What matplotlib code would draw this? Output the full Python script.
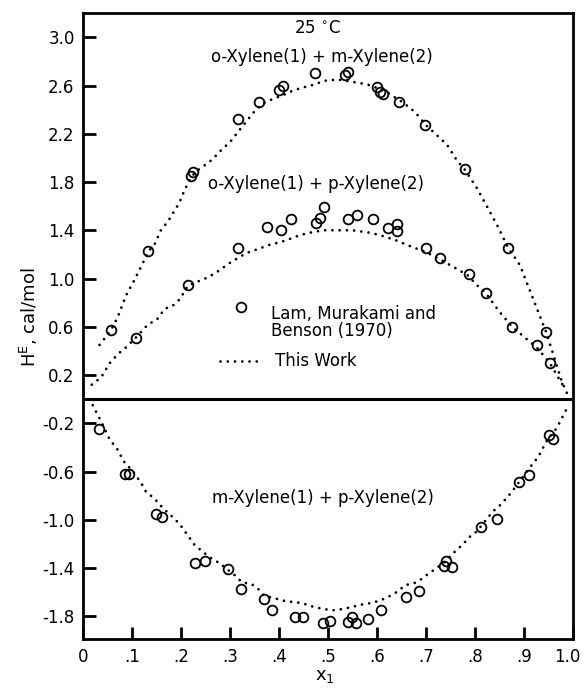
import matplotlib
matplotlib.use('Agg')
import matplotlib.pyplot as plt
from matplotlib.transforms import ScaledTranslation

# o-Xylene(1) + m-Xylene(2): Lam, Murakami and Benson (1970)
om_x = [0.057, 0.133, 0.220, 0.224, 0.316, 0.360, 0.400, 0.408, 0.473, 0.535, 0.541,
        0.600, 0.606, 0.612, 0.645, 0.698, 0.780, 0.867, 0.945]
om_y = [0.57, 1.23, 1.85, 1.88, 2.32, 2.46, 2.56, 2.60, 2.70, 2.69, 2.71,
        2.59, 2.55, 2.53, 2.46, 2.27, 1.91, 1.25, 0.56]

# o-Xylene(1) + p-Xylene(2)
op_x = [0.108, 0.214, 0.316, 0.375, 0.404, 0.424, 0.476, 0.484, 0.492, 0.541, 0.559,
        0.592, 0.622, 0.640, 0.640, 0.700, 0.728, 0.788, 0.822, 0.876, 0.926, 0.953]
op_y = [0.51, 0.95, 1.25, 1.43, 1.40, 1.49, 1.46, 1.50, 1.59, 1.49, 1.53,
        1.49, 1.42, 1.45, 1.39, 1.25, 1.17, 1.04, 0.88, 0.60, 0.45, 0.30]

# m-Xylene(1) + p-Xylene(2)
mp_x = [0.032, 0.085, 0.095, 0.150, 0.161, 0.229, 0.250, 0.297, 0.323, 0.369, 0.386,
        0.433, 0.450, 0.490, 0.504, 0.542, 0.550, 0.557, 0.582, 0.608, 0.659, 0.686,
        0.737, 0.742, 0.754, 0.813, 0.846, 0.891, 0.911, 0.951, 0.960]
mp_y = [-0.25, -0.62, -0.62, -0.95, -0.98, -1.36, -1.34, -1.41, -1.57, -1.66, -1.75,
        -1.81, -1.81, -1.86, -1.84, -1.85, -1.81, -1.86, -1.82, -1.75, -1.64, -1.59,
        -1.38, -1.34, -1.39, -1.06, -0.99, -0.69, -0.63, -0.30, -0.33]

# "This Work" curves
om_cx = [0.034, 0.057, 0.071, 0.088, 0.104, 0.119, 0.133, 0.147, 0.159, 0.173, 0.197,
         0.205, 0.220, 0.235, 0.249, 0.262, 0.286, 0.300, 0.333, 0.353, 0.371, 0.388,
         0.408, 0.424, 0.445, 0.465, 0.494, 0.520, 0.551, 0.580, 0.600, 0.622, 0.653,
         0.678, 0.698, 0.722, 0.743, 0.763, 0.780, 0.804, 0.827, 0.847, 0.867, 0.892,
         0.918, 0.945, 0.960, 0.977, 0.990]
om_cy = [0.45, 0.57, 0.68, 0.86, 0.98, 1.10, 1.22, 1.29, 1.40, 1.47, 1.63,
         1.71, 1.84, 1.90, 1.94, 1.98, 2.08, 2.13, 2.30, 2.40, 2.46, 2.49,
         2.52, 2.55, 2.58, 2.60, 2.64, 2.65, 2.63, 2.61, 2.58, 2.54, 2.46,
         2.38, 2.28, 2.19, 2.11, 1.98, 1.90, 1.75, 1.58, 1.43, 1.26, 1.11,
         0.84, 0.56, 0.37, 0.15, 0.03]

op_cx = [0.018, 0.037, 0.055, 0.073, 0.088, 0.108, 0.133, 0.151, 0.167, 0.182, 0.198,
         0.214, 0.255, 0.272, 0.300, 0.333, 0.361, 0.381, 0.402, 0.423, 0.443, 0.463,
         0.490, 0.520, 0.550, 0.586, 0.606, 0.637, 0.673, 0.700, 0.728, 0.759, 0.788,
         0.800, 0.822, 0.851, 0.876, 0.902, 0.926, 0.953, 0.967, 0.985]
op_cy = [0.12, 0.18, 0.30, 0.38, 0.43, 0.51, 0.62, 0.66, 0.75, 0.77, 0.83,
         0.94, 1.01, 1.05, 1.13, 1.21, 1.25, 1.28, 1.30, 1.33, 1.36, 1.38,
         1.40, 1.40, 1.40, 1.38, 1.36, 1.32, 1.26, 1.22, 1.16, 1.09, 1.02,
         0.96, 0.88, 0.72, 0.60, 0.51, 0.43, 0.30, 0.20, 0.08]

mp_cx = [0.020, 0.039, 0.054, 0.073, 0.082, 0.102, 0.118, 0.129, 0.145, 0.158, 0.173,
         0.189, 0.200, 0.214, 0.228, 0.246, 0.262, 0.279, 0.310, 0.325, 0.343, 0.357,
         0.370, 0.391, 0.408, 0.425, 0.446, 0.469, 0.490, 0.511, 0.531, 0.552, 0.572,
         0.589, 0.606, 0.623, 0.640, 0.659, 0.674, 0.688, 0.701, 0.715, 0.742, 0.752,
         0.766, 0.776, 0.790, 0.803, 0.831, 0.837, 0.854, 0.875, 0.919, 0.929, 0.946,
         0.967, 0.986]
mp_cy = [-0.05, -0.20, -0.33, -0.43, -0.51, -0.60, -0.69, -0.77, -0.82, -0.88, -0.94,
         -1.00, -1.05, -1.13, -1.21, -1.27, -1.32, -1.36, -1.46, -1.52, -1.53, -1.57,
         -1.63, -1.65, -1.67, -1.68, -1.69, -1.72, -1.74, -1.75, -1.74, -1.72, -1.70,
         -1.69, -1.67, -1.64, -1.60, -1.54, -1.53, -1.50, -1.46, -1.42, -1.34, -1.29,
         -1.24, -1.20, -1.14, -1.10, -0.96, -0.93, -0.87, -0.77, -0.53, -0.48, -0.35,
         -0.24, -0.09]

y_ticks = [3.0, 2.6, 2.2, 1.8, 1.4, 1.0, 0.6, 0.2, -0.2, -0.6, -1.0, -1.4, -1.8]
x_ticks = [0, 0.1, 0.2, 0.3, 0.4, 0.5, 0.6, 0.7, 0.8, 0.9, 1.0]
x_labels = ['0', '.1', '.2', '.3', '.4', '.5', '.6', '.7', '.8', '.9', '1.0']

plt.rcParams['font.family'] = ['DejaVu Sans']
plt.rcParams['font.size'] = 12

fig = plt.figure(figsize=(5.84, 6.94), dpi=100)
ax = fig.add_axes([0.142, 0.079, 0.839, 0.902])

dot_style = dict(color='black', lw=2.0, linestyle=(0, (0.01, 2.6)),
                 dash_capstyle='round')
circ_style = dict(linestyle='none', marker='o', ms=7, mfc='none', mec='black', mew=1.3)

for cx, cy in [(om_cx, om_cy), (op_cx, op_cy), (mp_cx, mp_cy)]:
    ax.plot(cx, cy, **dot_style)
for px, py in [(om_x, om_y), (op_x, op_y), (mp_x, mp_y)]:
    ax.plot(px, py, **circ_style)

ax.axhline(0, color='black', lw=2.2)

ax.set_xlim(0, 1)
ax.set_ylim(-1.99, 3.20)
ax.set_yticks(y_ticks)
ax.set_yticklabels(['%.1f' % v for v in y_ticks])
ax.set_xticks(x_ticks)
ax.set_xticklabels(x_labels)
ax.tick_params(direction='in', length=9, width=2, labelsize=12, pad=6)
for s in ax.spines.values():
    s.set_linewidth(2)

# keep "1.0" inside the picture
last = ax.get_xticklabels()[-1]
last.set_transform(last.get_transform() + ScaledTranslation(-4 / 72, 0, fig.dpi_scale_trans))

# annotations
ax.text(0.479, 3.08, '25 $^{\\circ}$C', ha='center', va='center')
ax.text(0.488, 2.84, 'o-Xylene(1) + m-Xylene(2)', ha='center', va='center')
ax.text(0.476, 1.78, 'o-Xylene(1) + p-Xylene(2)', ha='center', va='center')
ax.text(0.490, -0.82, 'm-Xylene(1) + p-Xylene(2)', ha='center', va='center')

# legend drawn by hand
ax.plot([0.322], [0.76], **circ_style)
ax.text(0.384, 0.635, 'Lam, Murakami and\nBenson (1970)', ha='left', va='center',
        linespacing=0.95)
ax.plot([0.28, 0.357], [0.32, 0.32], color='black', lw=2.0,
        linestyle=(0, (0.01, 2.6)), dash_capstyle='round')
ax.text(0.392, 0.32, 'This Work', ha='left', va='center')

fig.text(0.05, 0.543, 'H$^{\\mathregular{E}}$, cal/mol', rotation=90,
         ha='center', va='center', fontsize=13)
fig.text(0.557, 0.026, 'x$_{\\mathregular{1}}$', ha='center', va='center', fontsize=13)

fig.savefig('out.png', dpi=100)
